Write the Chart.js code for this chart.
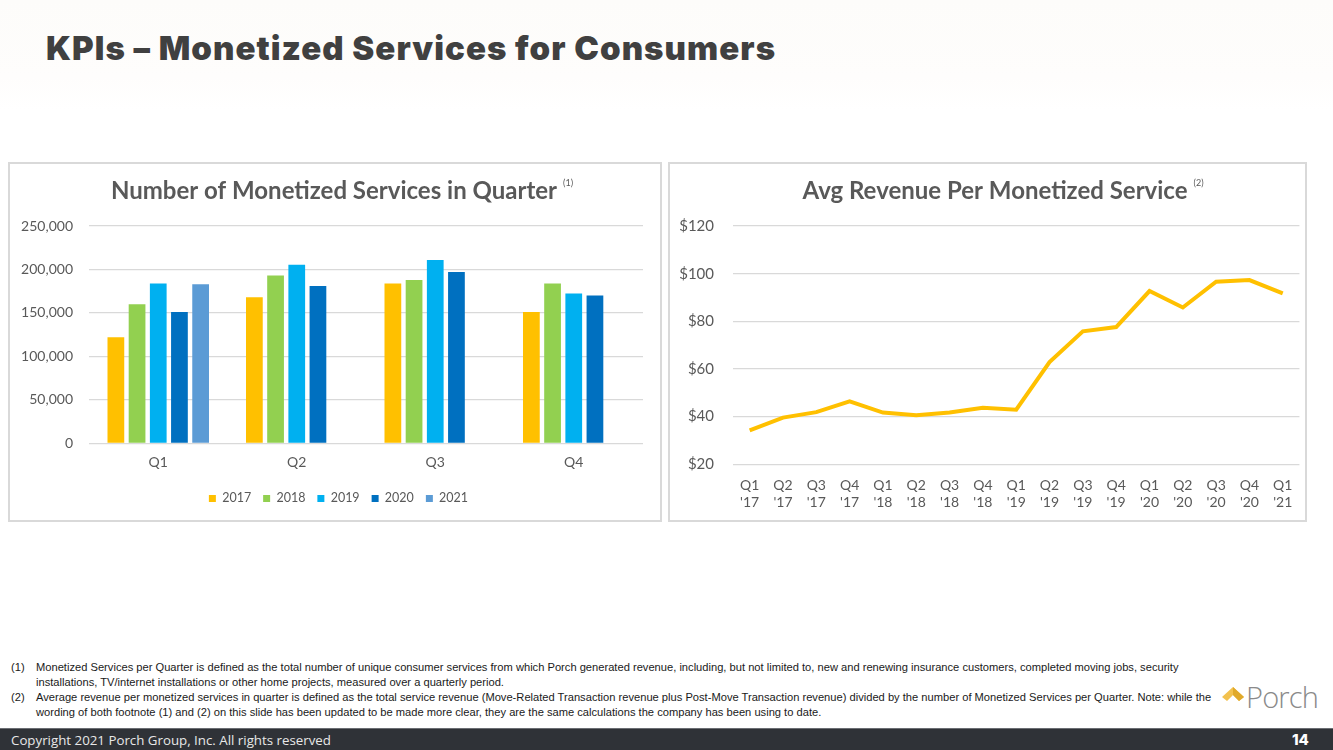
<!DOCTYPE html>
<html>
<head>
<meta charset="utf-8">
<script src="https://cdn.jsdelivr.net/npm/chart.js@4/dist/chart.umd.min.js"></script>
<style>
  html,body{margin:0;padding:0;}
  body{width:1333px;height:750px;position:relative;overflow:hidden;background:#ffffff;font-family:Lato, sans-serif;}
  #hdr{position:absolute;left:0;top:0;width:1333px;height:110px;background:linear-gradient(180deg,#fdfcfa 0%,#fefdfc 70%,#ffffff 100%);}
  #title{position:absolute;left:46px;top:28px;font-family:Inter, sans-serif;font-weight:900;font-size:33px;color:#404040;letter-spacing:1.05px;white-space:nowrap;}
  .panel{position:absolute;top:162px;height:356px;border:2px solid #d9d9d9;background:#fff;}
  #p1{left:8px;width:650px;}
  #p2{left:668px;width:635px;}
  .panel canvas{position:absolute;left:0;top:0;}
  .fn{position:absolute;font-family:"Liberation Sans", Arial, sans-serif;font-size:11.15px;color:#1a1a1a;white-space:nowrap;}
  #footer{position:absolute;left:0;top:728px;width:1333px;height:22px;background:#2f3237;border-top:1px solid #6b6e73;box-sizing:border-box;}
  #copy{position:absolute;left:11px;top:2px;font-family:"Open Sans", sans-serif;font-size:13.3px;color:#e8e8e8;}
  #pg{position:absolute;left:1292px;top:1px;font-family:Inter, sans-serif;font-weight:800;font-size:15px;color:#ffffff;}
  #logo{position:absolute;left:1222px;top:679px;width:100px;height:36px;}
  #logo .chev{position:absolute;left:0;top:8px;}
  #logo .txt{position:absolute;left:24px;top:-2px;font-family:"Open Sans", sans-serif;font-weight:300;font-size:29px;color:#8a8a8a;letter-spacing:-0.8px;}
</style>
</head>
<body>
<div id="hdr"></div>
<div id="title">KPIs – Monetized Services for Consumers</div>

<div class="panel" id="p1"><canvas id="c1" width="650" height="356"></canvas></div>
<div class="panel" id="p2"><canvas id="c2" width="635" height="356"></canvas></div>

<div class="fn" style="left:11px;top:661px;">(1)</div>
<div class="fn" style="left:36px;top:661px;">Monetized Services per Quarter is defined as the total number of unique consumer services from which Porch generated revenue, including, but not limited to, new and renewing insurance customers, completed moving jobs, security</div>
<div class="fn" style="left:36px;top:676px;">installations, TV/internet installations or other home projects, measured over a quarterly period.</div>
<div class="fn" style="left:11px;top:691px;">(2)</div>
<div class="fn" style="left:36px;top:691px;">Average revenue per monetized services in quarter is defined as the total service revenue (Move-Related Transaction revenue plus Post-Move Transaction revenue) divided by the number of Monetized Services per Quarter. Note: while the</div>
<div class="fn" style="left:36px;top:706px;">wording of both footnote (1) and (2) on this slide has been updated to be made more clear, they are the same calculations the company has been using to date.</div>

<div id="logo">
  <svg class="chev" width="22" height="14" viewBox="0 0 22 14"><polygon points="0,10 11,0 22,10 17,14 11,8 5,14" fill="#f2c14e"/><polygon points="11,0 22,10 17,14 11,8" fill="#e0a92a"/></svg>
  <div class="txt">Porch</div>
</div>

<div id="footer"><div id="copy">Copyright 2021 Porch Group, Inc. All rights reserved</div><div id="pg">14</div></div>

<script>
// ---- Data: left chart ----
const quarters = ['Q1', 'Q2', 'Q3', 'Q4'];
const years = ['2017', '2018', '2019', '2020', '2021'];
const services2017 = [122000, 168000, 184000, 151000];
const services2018 = [160000, 193000, 188000, 184000];
const services2019 = [184000, 205500, 211000, 172500];
const services2020 = [151000, 181000, 197000, 170000];
const services2021 = [183000, null, null, null];
const yearColors = ['#FFC000', '#92D050', '#00B0F0', '#0070C0', '#5B9BD5'];

// ---- Data: right chart ----
const periods = [["Q1","'17"],["Q2","'17"],["Q3","'17"],["Q4","'17"],["Q1","'18"],["Q2","'18"],["Q3","'18"],["Q4","'18"],["Q1","'19"],["Q2","'19"],["Q3","'19"],["Q4","'19"],["Q1","'20"],["Q2","'20"],["Q3","'20"],["Q4","'20"],["Q1","'21"]];
const avgRevenue = [34.2, 39.6, 41.9, 46.4, 41.7, 40.6, 41.7, 43.7, 42.9, 62.9, 75.8, 77.6, 92.7, 85.8, 96.6, 97.3, 91.7];

const GRAY = '#595959';
const GRID = '#d9d9d9';

// Draws the chart heading and its footnote marker
const heading = {
  id: 'heading',
  afterDraw(chart, args, opts) {
    const ctx = chart.ctx;
    ctx.save();
    ctx.font = 'bold 24px Lato';
    ctx.fillStyle = GRAY;
    ctx.textBaseline = 'middle';
    ctx.textAlign = 'center';
    ctx.fillText(opts.text, opts.x, opts.y);
    const w = ctx.measureText(opts.text).width;
    ctx.font = '9px Lato';
    ctx.textAlign = 'left';
    ctx.fillText(opts.note, opts.x + w / 2 + 6, opts.y - 8);
    ctx.restore();
  }
};

// Nudges the legend so it centres under the whole panel
const legendShift = {
  id: 'legendShift',
  afterLayout(chart, args, opts) {
    if (chart.legend) { chart.legend.left += opts.dx; chart.legend.right += opts.dx; }
  }
};

const seriesList = [services2017, services2018, services2019, services2020, services2021];

new Chart(document.getElementById('c1'), {
  type: 'bar',
  data: {
    labels: quarters,
    datasets: years.map((y, i) => ({
      label: y,
      data: seriesList[i],
      backgroundColor: yearColors[i],
      borderWidth: 0,
      categoryPercentage: 0.765,
      barPercentage: 0.79
    }))
  },
  plugins: [heading, legendShift],
  options: {
    responsive: false,
    animation: false,
    layout: { padding: { left: 0, right: 17, top: 62, bottom: 5.3 } },
    plugins: {
      legend: { position: 'bottom',
        labels: { color: GRAY, font: { family: 'Lato', size: 12.5 }, boxWidth: 7, boxHeight: 7, padding: 12 } },
      tooltip: { enabled: false },
      heading: { text: 'Number of Monetized Services in Quarter', note: '(1)', x: 324, y: 27 },
      legendShift: { dx: 12 }
    },
    scales: {
      x: { grid: { display: false, drawTicks: false }, border: { display: false },
           ticks: { color: GRAY, font: { family: 'Lato', size: 14 }, padding: 10.5 },
           afterFit(s) { s.height = 36.8; } },
      y: { min: 0, max: 250000, ticks: { stepSize: 50000, color: GRAY, font: { family: 'Lato', size: 14 }, padding: 16,
             callback: v => v.toLocaleString('en-US') },
           grid: { color: GRID, lineWidth: 1.3, drawTicks: false }, border: { display: false },
           afterFit(s) { s.width = 79; } }
    }
  }
});

new Chart(document.getElementById('c2'), {
  type: 'line',
  data: {
    labels: periods,
    datasets: [{
      label: 'Avg Revenue',
      data: avgRevenue,
      borderColor: '#FFC000',
      borderWidth: 4,
      pointRadius: 0,
      tension: 0,
      fill: false
    }]
  },
  plugins: [heading],
  options: {
    responsive: false,
    animation: false,
    layout: { padding: { left: 0, right: 2.5, top: 62, bottom: 0 } },
    plugins: {
      legend: { display: false },
      tooltip: { enabled: false },
      heading: { text: 'Avg Revenue Per Monetized Service', note: '(2)', x: 325, y: 27 }
    },
    scales: {
      x: { offset: true, grid: { display: false, drawTicks: false }, border: { display: false },
           ticks: { color: GRAY, font: { family: 'Lato', size: 14 }, padding: 12.5, maxRotation: 0, autoSkip: false },
           afterFit(s) { s.height = 55.7; } },
      y: { min: 20, max: 120, ticks: { stepSize: 20, color: GRAY, font: { family: 'Lato', size: 15 }, padding: 19,
             callback: v => '$' + v },
           grid: { color: GRID, lineWidth: 1.3, drawTicks: false }, border: { display: false },
           afterFit(s) { s.width = 63; } }
    }
  }
});
</script>
</body>
</html>
